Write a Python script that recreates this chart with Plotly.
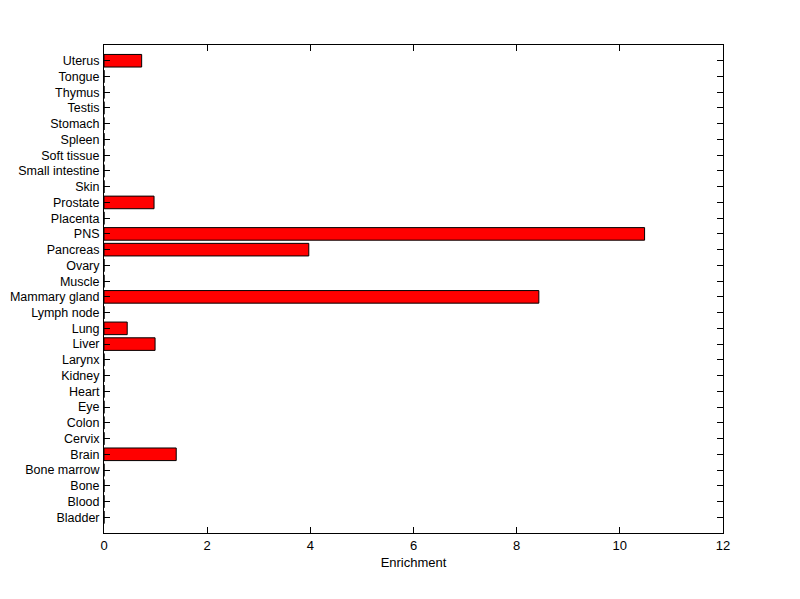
import plotly.graph_objects as go

# tissues, bottom to top
tissues = ["Bladder", "Blood", "Bone", "Bone marrow", "Brain", "Cervix", "Colon", "Eye",
           "Heart", "Kidney", "Larynx", "Liver", "Lung", "Lymph node", "Mammary gland",
           "Muscle", "Ovary", "Pancreas", "PNS", "Placenta", "Prostate", "Skin",
           "Small intestine", "Soft tissue", "Spleen", "Stomach", "Testis", "Thymus",
           "Tongue", "Uterus"]
enrichment = [0, 0, 0, 0, 1.40, 0, 0, 0,
              0, 0, 0, 0.99, 0.45, 0, 8.43,
              0, 0, 3.97, 10.48, 0, 0.97, 0,
              0, 0, 0, 0, 0, 0,
              0, 0.73]
x_ticks = [0, 2, 4, 6, 8, 10, 12]

fnt = dict(family="Liberation Sans, Arial", size=13, color="black")
yfnt = dict(family="Liberation Sans, Arial", size=12.5, color="black")

fig = go.Figure(go.Bar(
    x=enrichment, y=tissues, orientation="h", width=0.8,
    marker=dict(color="#ff0000", line=dict(color="black", width=1)),
))

axis_style = dict(showline=True, linecolor="black", linewidth=1, mirror="ticks",
                  ticks="inside", tickcolor="black", ticklen=6, showgrid=False,
                  zeroline=False, automargin=False)

fig.update_xaxes(range=[0, 12], tickvals=x_ticks, tickfont=fnt,
                 title=dict(text="Enrichment", standoff=6, font=fnt), **axis_style)
fig.update_yaxes(type="category", categoryorder="array", categoryarray=tissues,
                 tickmode="array", tickvals=tissues, ticktext=tissues, tickfont=yfnt,
                 range=[-1, 30], ticklabelstandoff=1, **axis_style)

# page body has an 8px margin, so the figure is a bit smaller than the window
fig.update_layout(
    width=792, height=591,
    margin=dict(l=96, r=77, t=37, b=66),
    plot_bgcolor="white", paper_bgcolor="white",
    showlegend=False, bargap=0.2,
)

fig.write_html("out.html")
